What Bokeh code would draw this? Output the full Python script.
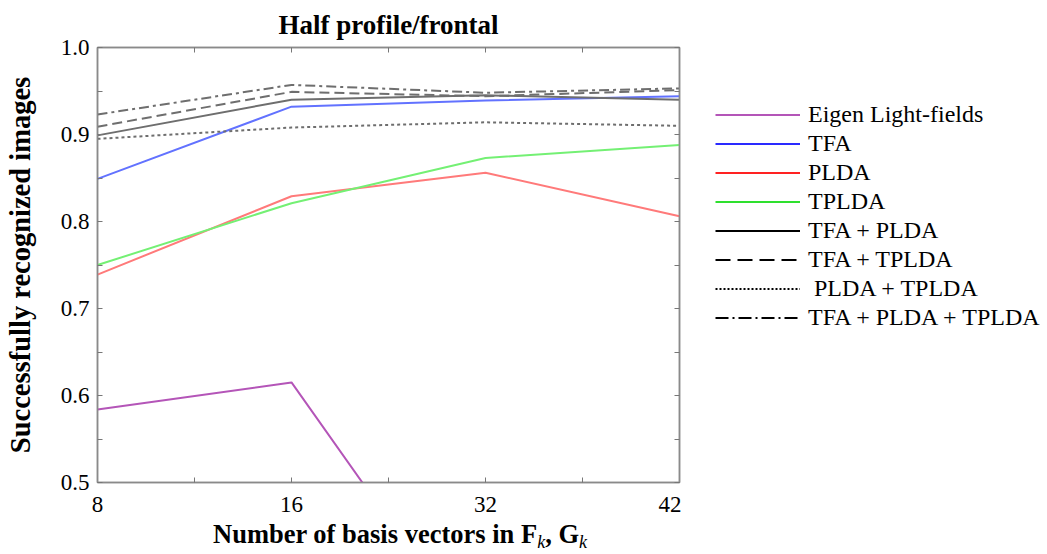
from bokeh.plotting import figure
from bokeh.models import FixedTicker, LinearAxis, Range1d, Legend, LegendItem, Div
from bokeh.layouts import column, row
from bokeh.embed import file_html
from bokeh.resources import INLINE

# ---- data ----
basis_vectors = [8, 16, 32, 42]
tick_labels = ["8", "16", "32", "42"]
eigen_light_fields = [0.584, 0.615, 0.300, 0.280]
tfa = [0.849, 0.932, 0.939, 0.944]
plda = [0.739, 0.829, 0.856, 0.806]
tplda = [0.750, 0.821, 0.873, 0.888]
tfa_plda = [0.899, 0.940, 0.945, 0.940]
tfa_tplda = [0.909, 0.949, 0.944, 0.951]
plda_tplda = [0.895, 0.908, 0.914, 0.910]
tfa_plda_tplda = [0.923, 0.957, 0.948, 0.953]

series_names = ["Eigen Light-fields", "TFA", "PLDA", "TPLDA", "TFA + PLDA",
                "TFA + TPLDA", " PLDA + TPLDA", "TFA + PLDA + TPLDA"]
series_values = [eigen_light_fields, tfa, plda, tplda, tfa_plda,
                 tfa_tplda, plda_tplda, tfa_plda_tplda]

# styles: (plot colour, legend colour, plot dash, legend dash)
styles = [
    ("#b455b8", "#b455b8", "solid", "solid"),
    ("#6272ff", "#2a2aff", "solid", "solid"),
    ("#ff7a7a", "#ff2222", "solid", "solid"),
    ("#74f074", "#2ee02e", "solid", "solid"),
    ("#6e6e6e", "#000000", "solid", "solid"),
    ("#6e6e6e", "#000000", "10 5", "15 7"),
    ("#6e6e6e", "#000000", "3 3", "2 2"),
    ("#6e6e6e", "#000000", "10 4 3 4", "13 4 2 4"),
]

SERIF = "Liberation Serif"
FRAME_W, FRAME_H = 582, 435
LEFT, TOP, BOTTOM, RIGHT = 97, 47, 40, 2
TOTAL_W, TOTAL_H = 1045, 552

# evenly spaced positions for the categories (8, 16, 32, 42)
xs = [2 * i for i in range(len(basis_vectors))]

p = figure(frame_width=FRAME_W, frame_height=FRAME_H, output_backend="svg",
           toolbar_location=None,
           x_range=Range1d(xs[0], xs[-1]), y_range=Range1d(0.5, 1.0),
           min_border_left=LEFT, min_border_right=RIGHT, min_border_top=TOP,
           min_border_bottom=BOTTOM, title="Half profile/frontal")
p.xgrid.visible = False
p.ygrid.visible = False
p.outline_line_color = "#8a8a8a"
p.outline_line_width = 1.5

p.title.text_font = SERIF
p.title.text_font_size = "27px"
p.title.text_font_style = "bold"
p.title.text_color = "#000000"
p.title.align = "center"
p.title.standoff = 15

xticker = FixedTicker(ticks=xs, minor_ticks=[x + 1 for x in xs[:-1]])
yt = [0.5, 0.6, 0.7, 0.8, 0.9, 1.0]
yticker = FixedTicker(ticks=yt, minor_ticks=[t + 0.05 for t in yt[:-1]])

def style_axis(ax, show_labels=True, standoff=7):
    ax.axis_line_color = "#8a8a8a"
    ax.axis_line_width = 1.5
    ax.major_tick_line_color = "#777777"
    ax.minor_tick_line_color = "#777777"
    ax.major_tick_in = 5
    ax.major_tick_out = 0
    ax.minor_tick_in = 5
    ax.minor_tick_out = 0
    ax.major_label_text_font = SERIF
    if show_labels:
        ax.major_label_text_color = "#000000"
        ax.major_label_text_font_size = "23px"
        ax.major_label_standoff = standoff
    else:
        ax.major_label_text_color = None
        ax.major_label_text_font_size = "1px"
        ax.major_label_standoff = 0

p.xaxis.ticker = xticker
p.xaxis.major_label_overrides = {x: lbl for x, lbl in zip(xs, tick_labels)}
p.yaxis.ticker = yticker
p.yaxis.major_label_overrides = {1.0: "1.0"}
style_axis(p.xaxis[0], standoff=14)
style_axis(p.yaxis[0], standoff=8)
p.yaxis.axis_label = "Successfully recognized images"
p.yaxis.axis_label_text_font = SERIF
p.yaxis.axis_label_text_font_size = "28.5px"
p.yaxis.axis_label_text_font_style = "bold"
p.yaxis.axis_label_text_color = "#000000"
p.yaxis.axis_label_standoff = 22

top_axis = LinearAxis(ticker=xticker)
style_axis(top_axis, show_labels=False)
p.add_layout(top_axis, "above")
right_axis = LinearAxis(ticker=yticker)
style_axis(right_axis, show_labels=False)
p.add_layout(right_axis, "right")

# plotted lines
for vals, (pc, lc, pd, ld) in zip(series_values, styles):
    p.line(xs, vals, line_color=pc, line_width=2, line_dash=pd)

main_w = LEFT + FRAME_W + RIGHT
main_h = TOP + FRAME_H + BOTTOM

# ---- legend panel (separate, frameless figure so nothing is clipped) ----
lg = figure(width=TOTAL_W - main_w, height=main_h, output_backend="svg",
            toolbar_location=None, x_range=Range1d(0, 1), y_range=Range1d(0, 1),
            min_border=0)
lg.axis.visible = False
lg.xgrid.visible = False
lg.ygrid.visible = False
lg.outline_line_color = None

items = []
for name, (pc, lc, pd, ld) in zip(series_names, styles):
    r = lg.line([0, 1], [float("nan"), float("nan")], line_color=lc,
                line_width=2.2, line_dash=ld)
    items.append(LegendItem(label=name, renderers=[r]))

legend = Legend(items=items, location=(34, 191), border_line_color=None,
                background_fill_alpha=0, padding=0, margin=0,
                glyph_width=85, glyph_height=25, label_height=25,
                label_standoff=8, spacing=2,
                label_text_font=SERIF, label_text_font_size="24px",
                label_text_color="#000000")
lg.add_layout(legend)

# x-axis title (bold, with italic subscripts) as real HTML text
sub = ('<span style="font-size:18px;font-style:italic;font-weight:normal;'
       'position:relative;top:5px;line-height:0">k</span>')
xlabel_html = ('<span style="font-weight:bold">Number of basis vectors in F</span>'
               + sub + '<span style="font-weight:bold">, G</span>' + sub)
xlabel = Div(text=xlabel_html, width=main_w, height=TOTAL_H - main_h,
             margin=(0, 0, 0, 0),
             styles={"font-family": "'Liberation Serif'", "font-size": "26.5px",
                     "line-height": "24px", "padding-left": "213px",
                     "white-space": "nowrap", "color": "#000000",
                     "overflow": "visible"})

layout = row(column(p, xlabel, spacing=0), lg, spacing=0)
open("out.html", "w").write(file_html(layout, INLINE))
